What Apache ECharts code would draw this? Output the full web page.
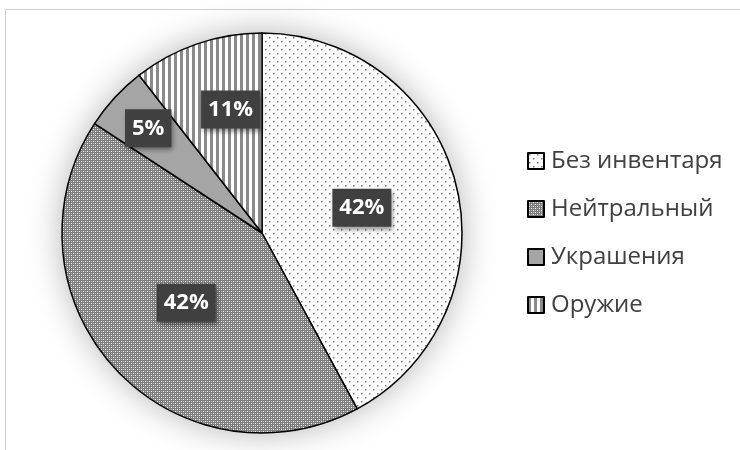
<!DOCTYPE html>
<html>
<head>
<meta charset="utf-8">
<script src="https://cdn.jsdelivr.net/npm/echarts@6/dist/echarts.min.js"></script>
<style>html,body{margin:0;padding:0;background:#fff;}#c{width:740px;height:450px;}</style>
</head>
<body>
<div id="c"></div>
<script>
const categories = ['Без инвентаря', 'Нейтральный', 'Украшения', 'Оружие'];
const values = [8, 8, 1, 2];

function makePattern(w, h, draw) {
  const cv = document.createElement('canvas');
  cv.width = w; cv.height = h;
  const ctx = cv.getContext('2d');
  draw(ctx);
  return { image: cv, repeat: 'repeat' };
}
const patDots = makePattern(8, 8, ctx => {
  ctx.fillStyle = '#ffffff'; ctx.fillRect(0, 0, 8, 8);
  ctx.fillStyle = '#7a7a7a';
  ctx.fillRect(1, 1, 1.5, 1.5);
  ctx.fillRect(5, 5, 1.5, 1.5);
});
const patCheck = makePattern(4, 4, ctx => {
  ctx.fillStyle = '#7c7c7c'; ctx.fillRect(0, 0, 4, 4);
  ctx.fillStyle = '#ffffff';
  ctx.fillRect(1, 1, 1, 1);
  ctx.fillRect(3, 3, 1, 1);
  ctx.fillStyle = '#c4c4c4';
  ctx.fillRect(1, 3, 1, 1);
  ctx.fillRect(3, 1, 1, 1);
});
const patSolid = '#a5a5a5';
const patStripes = makePattern(6, 4, ctx => {
  ctx.fillStyle = '#ffffff'; ctx.fillRect(0, 0, 6, 4);
  ctx.fillStyle = '#8a8a8a'; ctx.fillRect(0, 0, 3, 4);
});
const fills = [patDots, patCheck, patSolid, patStripes];
const labelOffsets = [[0, 0], [0, 0], [-38, -35], [2, -26]];

const chart = echarts.init(document.getElementById('c'), null, { renderer: 'canvas' });
const FONT = "'Open Sans', 'Noto Sans', sans-serif";
chart.setOption({
  animation: false,
  backgroundColor: '#ffffff',
  graphic: [{
    type: 'rect', silent: true, z: -10,
    shape: { x: 5.5, y: 9.5, width: 800, height: 500 },
    style: { fill: 'none', stroke: '#d0d0d0', lineWidth: 1 }
  }],
  legend: {
    orient: 'vertical',
    left: 522, top: 144,
    data: categories,
    itemWidth: 16, itemHeight: 16,
    itemGap: 24,
    icon: 'rect',
    textStyle: { fontFamily: FONT, fontSize: 24, color: '#404040', padding: [0, 0, 0, 2] }
  },
  series: [
    {
      type: 'pie', name: 'bg', silent: true, z: 1,
      center: [262, 233], radius: 200,
      label: { show: false }, labelLine: { show: false },
      itemStyle: { color: '#ffffff', shadowBlur: 34, shadowColor: 'rgba(0,0,0,0.3)' },
      data: [{ name: '_bg', value: 1 }]
    },
    {
      type: 'pie', name: 'main', z: 2,
      center: [262, 233], radius: 200,
      startAngle: 90, clockwise: true,
      percentPrecision: 0,
      label: {
        show: true, position: 'inside',
        formatter: '{d}%',
        fontFamily: FONT, fontSize: 22, fontWeight: 'bold', color: '#ffffff',
        backgroundColor: '#404040',
        padding: [8, 7, 8, 7],
        shadowColor: 'rgba(0,0,0,0.45)', shadowBlur: 5, shadowOffsetX: 2, shadowOffsetY: 3
      },
      labelLine: { show: false },
      emphasis: { disabled: true },
      data: categories.map((n, i) => ({
        name: n, value: values[i],
        itemStyle: { color: fills[i], borderColor: '#000000', borderWidth: 1.5 },
        label: { offset: labelOffsets[i] }
      }))
    }
  ]
});
</script>
</body>
</html>
